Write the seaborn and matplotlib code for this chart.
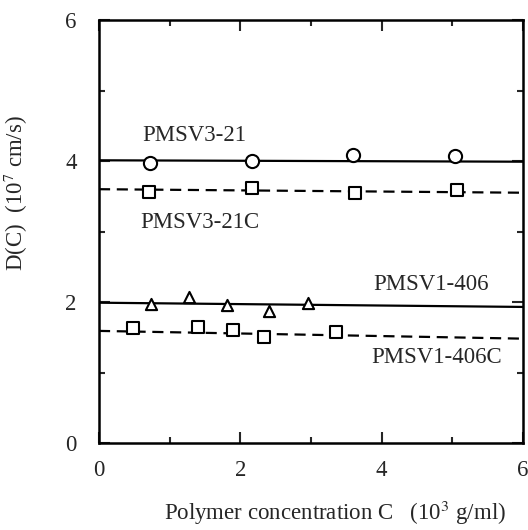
import matplotlib
matplotlib.use("Agg")
import matplotlib.pyplot as plt
import seaborn as sns

# ---- data ----
c_3_21 = [0.72, 2.16, 3.59, 5.04]
d_3_21 = [3.97, 4.00, 4.09, 4.07]
c_3_21c = [0.71, 2.16, 3.62, 5.06]
d_3_21c = [3.56, 3.62, 3.55, 3.59]
c_1_406 = [0.74, 1.27, 1.81, 2.40, 2.96]
d_1_406 = [1.97, 2.07, 1.96, 1.87, 1.99]
c_1_406c = [0.48, 1.40, 1.90, 2.33, 3.35]
d_1_406c = [1.63, 1.65, 1.60, 1.50, 1.57]

fit_x = [0, 6]
fit_3_21 = [4.01, 3.99]
fit_3_21c = [3.60, 3.55]
fit_1_406 = [1.99, 1.93]
fit_1_406c = [1.59, 1.48]

labels = ["PMSV3-21", "PMSV3-21C", "PMSV1-406", "PMSV1-406C"]
x_ticks = [0, 2, 4, 6]
y_ticks = [0, 2, 4, 6]

sns.set_style("ticks")
plt.rcParams["font.family"] = ["Liberation Serif", "DejaVu Serif"]
plt.rcParams["mathtext.fontset"] = "stix"

fig = plt.figure(figsize=(5.28, 5.30), dpi=100)
ax = fig.add_axes([99 / 528, 87 / 530, 424 / 528, 423 / 530])

lw = 1.6
dash = (5, 3)
sns.lineplot(x=fit_x, y=fit_3_21, ax=ax, color="black", lw=lw)
sns.lineplot(x=fit_x, y=fit_3_21c, ax=ax, color="black", lw=lw, linestyle=(0, dash))
sns.lineplot(x=fit_x, y=fit_1_406, ax=ax, color="black", lw=lw)
sns.lineplot(x=fit_x, y=fit_1_406c, ax=ax, color="black", lw=lw, linestyle=(0, dash))

kw = dict(ax=ax, color="white", edgecolor="black", linewidth=1.5, zorder=5)
sns.scatterplot(x=c_3_21, y=d_3_21, marker="o", s=90, **kw)
sns.scatterplot(x=c_3_21c, y=d_3_21c, marker="s", s=75, **kw)
sns.scatterplot(x=c_1_406, y=d_1_406, marker="^", s=65, **kw)
sns.scatterplot(x=c_1_406c, y=d_1_406c, marker="s", s=75, **kw)

fs = 16.5
ax.text(0.101, 0.728, labels[0], transform=ax.transAxes, ha="left", va="center", fontsize=fs)
ax.text(0.097, 0.522, labels[1], transform=ax.transAxes, ha="left", va="center", fontsize=fs)
ax.text(0.646, 0.374, labels[2], transform=ax.transAxes, ha="left", va="center", fontsize=fs)
ax.text(0.643, 0.203, labels[3], transform=ax.transAxes, ha="left", va="center", fontsize=fs)

ax.set_xlim(0, 6)
ax.set_ylim(0, 6)
ax.set_xticks(x_ticks)
ax.set_yticks(y_ticks)
ax.set_xticklabels([str(t) for t in x_ticks])
ax.set_yticklabels([str(t) for t in y_ticks])
ax.set_xticks([1, 3, 5], minor=True)
ax.set_yticks([1, 3, 5], minor=True)
ax.tick_params(which="major", direction="in", length=8, width=1.5, top=True, right=True,
               labelsize=fs)
ax.tick_params(which="minor", direction="in", length=4, width=1.5, top=True, right=True)
ax.tick_params(axis="x", which="major", pad=12)
ax.tick_params(axis="y", which="major", pad=16)
for s in ax.spines.values():
    s.set_linewidth(1.8)
    s.set_color("black")

ax.set_xlabel("Polymer concentration C   (10$^3$ g/ml)", fontsize=fs)
ax.set_ylabel("D(C)  (10$^7$ cm/s)", fontsize=fs)
ax.xaxis.set_label_coords(0.557, -0.132)
ax.yaxis.set_label_coords(-0.163, 0.59)

fig.savefig("out.png", dpi=100, facecolor="white")
